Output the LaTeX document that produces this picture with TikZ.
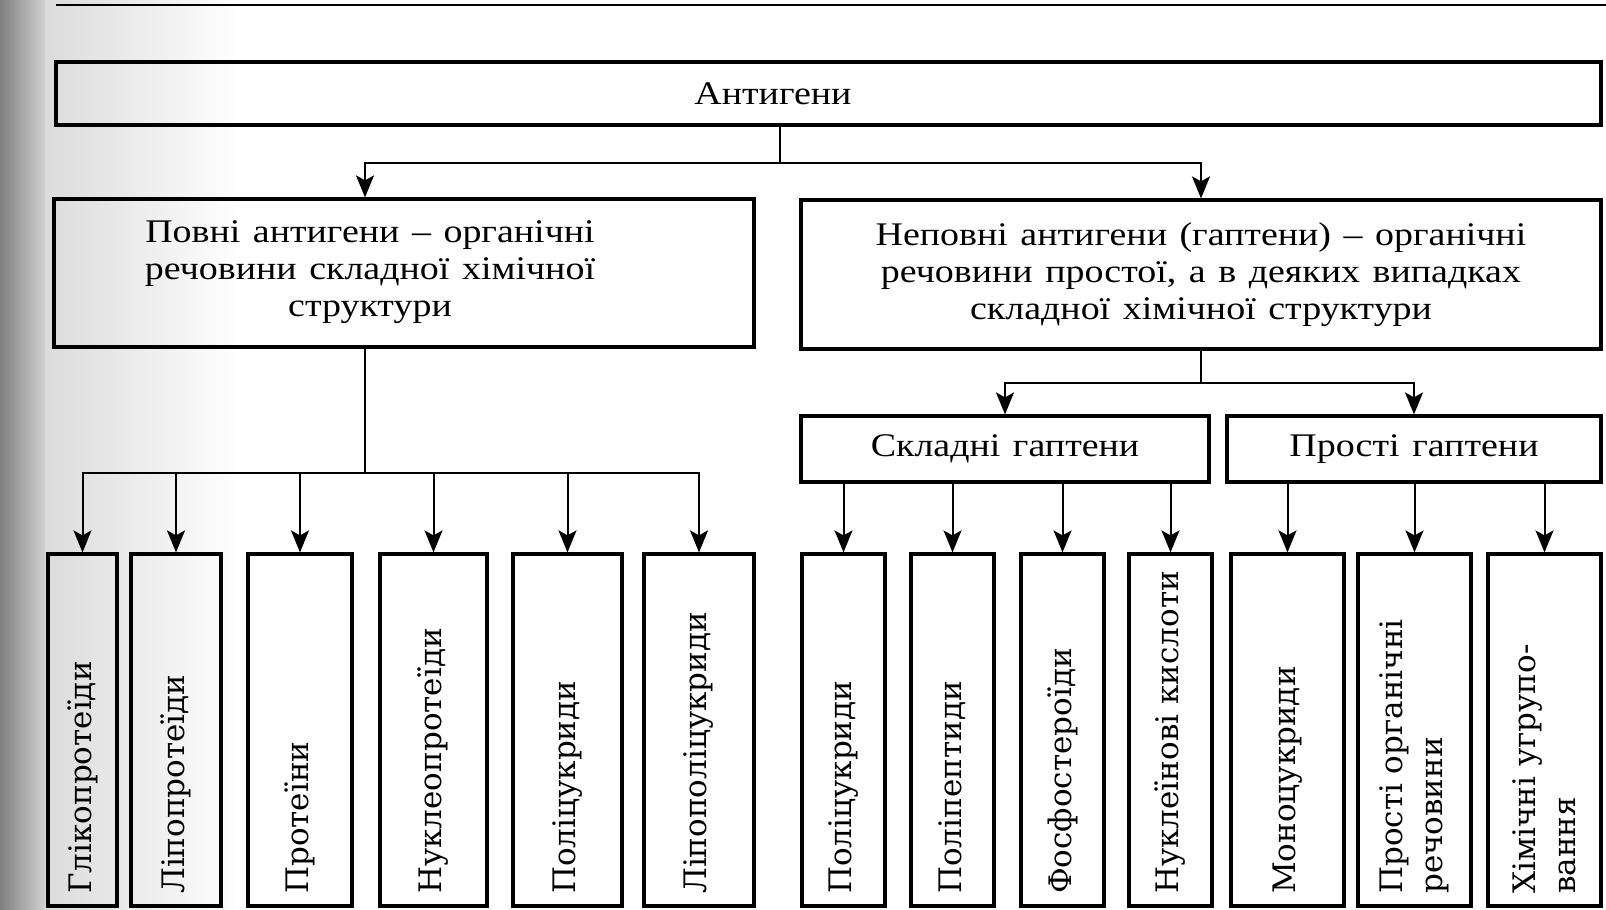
\documentclass[tikz,border=0pt]{standalone}
\usepackage{fontspec}
\setmainfont{Liberation Serif}[FakeStretch=1.15]
\newfontfamily\vertfont{DejaVu Serif}
\newcommand\lblfont{\fontsize{33}{37}\selectfont\spaceskip=0.38em plus 0.1em\relax}
\usetikzlibrary{arrows.meta,positioning,calc}

\begin{document}
\begin{tikzpicture}[x=1pt,y=-1pt,
  box/.style={draw,line width=3.2pt,inner sep=0pt},
  lbl/.style={font=\lblfont,align=center},
  vlbl/.style={font=\vertfont\fontsize{31}{40}\selectfont,rotate=90,anchor=west,inner sep=0pt,align=left},
  conn/.style={line width=2pt},
  arr/.style={conn,-{Stealth[length=22pt,width=18pt,inset=5pt]}}]
  \useasboundingbox (0,0) rectangle (1606,910);

  % page shadow at the spine
  \shade[left color=black!50,right color=black!18] (0,0) rectangle (45,910);
  \shade[left color=black!14,right color=white] (45,0) rectangle (240,910);

  % header rule
  \draw[line width=2.8pt] (56,5) -- (1606,5);

  % top level
  \node[box,minimum width=1545pt,minimum height=63pt] (ag) at (828.5,93.5) {};
  \node[lbl] (agt) at (773,94) {Антигени};

  % full and partial antigens
  \node[box,minimum width=700pt,minimum height=148pt] (full) at (404,273) {};
  \node[lbl] (fullt) at (370,272) {Повні антигени – органічні\\речовини складної хімічної\\структури};
  \node[box,lbl,minimum width=800pt,minimum height=149pt] (part) at (1201,274.5)
    {Неповні антигени (гаптени) – органічні\\речовини простої, а в деяких випадках\\складної хімічної структури};

  % haptens
  \node[box,lbl,minimum width=408pt,minimum height=66pt] (compl) at (1005,449) {Складні гаптени};
  \node[box,lbl,minimum width=374pt,minimum height=66pt] (simple) at (1414,449) {Прості гаптени};

  % bottom row
  \foreach \n/\cx/\w/\t in {
      g1/82.5/69/Глікопротеїди, g2/176/90/Ліпопротеїди, g3/300/104/Протеїни,
      g4/433.5/107/Нуклеопротеїди, g5/567.5/109/Поліцукриди, g6/699/110/Ліпополіцукриди,
      h1/843.5/83/Поліцукриди, h2/952.5/83/Поліпептиди, h3/1062.5/83/Фосфостероїди,
      h4/1170.5/83/Нуклеїнові кислоти, h5/1287.5/113/Моноцукриди,
      h6/1414.5/113/{Прості органічні\\речовини}, h7/1544.5/113/{Хімічні угрупо-\\вання}} {
    \node[box,minimum width=\w pt,minimum height=352pt] (\n) at (\cx,730) {};
    \node[vlbl] (\n-t) at (\cx,894) {\t};
  }

  % connectors
  \coordinate (j1) at (780,163);
  \draw[conn] (ag.south -| j1) -- (j1);
  \draw[arr] (j1) -| ([xshift=-39pt]full.north);
  \draw[arr] (j1) -| (part.north);

  \coordinate (j2) at (365,473);
  \draw[conn] (full.south -| j2) -- (j2);
  \foreach \n in {g1,g2,g3,g4,g5,g6}
    \draw[arr] (j2) -| (\n.north);

  \coordinate (j3) at (1201,383);
  \draw[conn] (part.south) -- (j3);
  \draw[arr] (j3) -| (compl.north);
  \draw[arr] (j3) -| (simple.north);

  \foreach \n in {h1,h2,h3,h4}
    \draw[arr] (compl.south -| \n.north) -- (\n.north);
  \foreach \n in {h5,h6,h7}
    \draw[arr] (simple.south -| \n.north) -- (\n.north);
\end{tikzpicture}
\end{document}
